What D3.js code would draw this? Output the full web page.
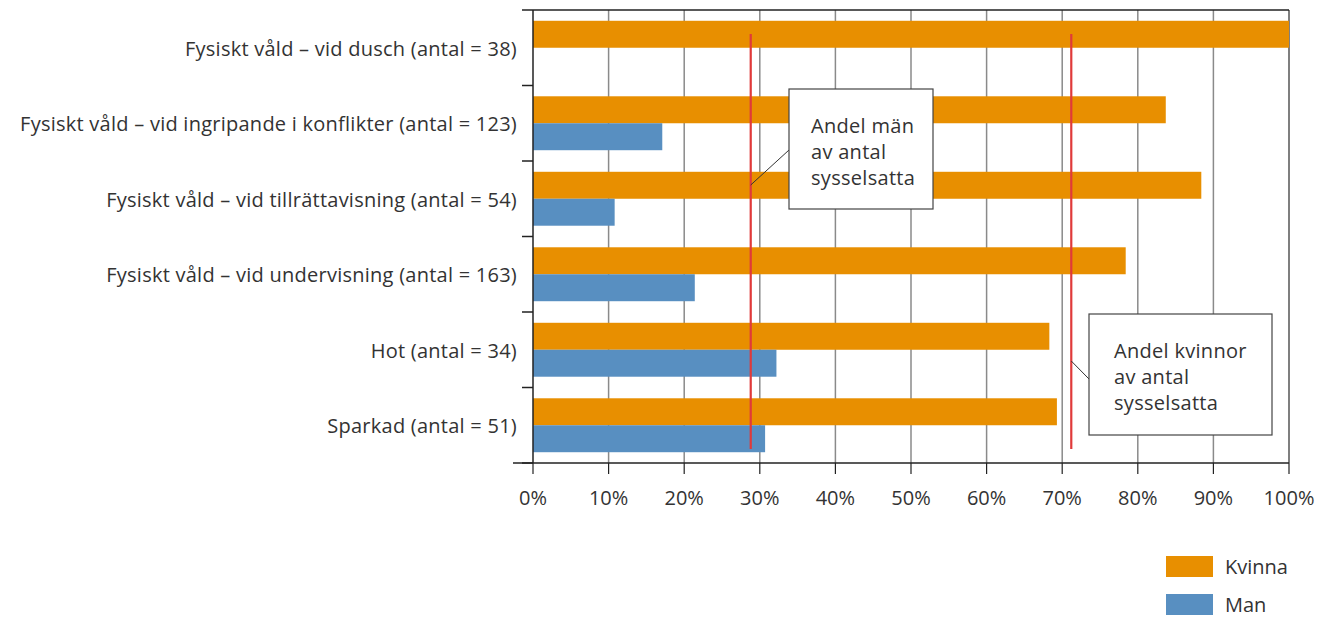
<!DOCTYPE html>
<html>
<head>
<meta charset="utf-8">
<script src="https://cdn.jsdelivr.net/npm/d3@7"></script>
<style>
  body { margin: 0; background: #fff; }
  svg text { font-family: "Open Sans", "Noto Sans", sans-serif; fill: #333; }
</style>
</head>
<body>
<svg id="chart"></svg>
<script>
const categories = [
    'Fysiskt våld – vid dusch (antal = 38)',
    'Fysiskt våld – vid ingripande i konflikter (antal = 123)',
    'Fysiskt våld – vid tillrättavisning (antal = 54)',
    'Fysiskt våld – vid undervisning (antal = 163)',
    'Hot (antal = 34)',
    'Sparkad (antal = 51)'
]
const series = ['Kvinna', 'Man']
const kvinna = [100, 83.7, 88.4, 78.4, 68.3, 69.3]
const man = [0, 17.1, 10.8, 21.4, 32.2, 30.7]
const ticks = [0, 10, 20, 30, 40, 50, 60, 70, 80, 90, 100]
// andel av antal sysselsatta
const refLines = [
    {label: ['Andel män', 'av antal', 'sysselsatta'], value: 28.8},
    {label: ['Andel kvinnor', 'av antal', 'sysselsatta'], value: 71.2}
]

const colors = {Kvinna: '#e88f00', Man: '#588fc1'}

let chart = {}
chart.width_ = 1319
chart.height_ = 621
chart.margin = {top: 10, right: 30, bottom: 158, left: 533}

chart.svg = d3.select('#chart')
    .attr('width', chart.width_)
    .attr('height', chart.height_)

chart.x = d3.scaleLinear()
    .domain([0, 100])
    .range([chart.margin.left, 1289])
chart.y = d3.scaleBand()
    .domain(categories)
    .range([chart.margin.top, chart.height_ - chart.margin.bottom])
chart.sub = d3.scaleBand()
    .domain(series)
    .range([0, chart.y.bandwidth()])
    .paddingOuter(0.4)

const x = chart.x, y = chart.y
const bottom = y.range()[1]

// gridlines
chart.svg.append('g')
    .selectAll('line')
    .data(ticks.slice(1))
    .join('line')
    .attr('x1', d => x(d)).attr('x2', d => x(d))
    .attr('y1', y.range()[0]).attr('y2', bottom)
    .attr('stroke', d => d === 100 ? '#555' : '#8a8a8a')
    .attr('stroke-width', 1.5)

// top frame line
chart.svg.append('line')
    .attr('x1', x(0) - 11).attr('x2', x(100))
    .attr('y1', y.range()[0]).attr('y2', y.range()[0])
    .attr('stroke', '#222').attr('stroke-width', 1.5)

// bars
const rows = categories.map((c, i) => ({cat: c, values: [
    {key: 'Kvinna', value: kvinna[i]},
    {key: 'Man', value: man[i]}
]}))

const group = chart.svg.append('g')
    .selectAll('g')
    .data(rows)
    .join('g')
    .attr('transform', d => `translate(0, ${y(d.cat)})`)
group.selectAll('rect')
    .data(d => d.values.filter(v => v.value > 0))
    .join('rect')
    .attr('x', x(0))
    .attr('y', (d, i) => chart.sub(series[i]))
    .attr('width', d => x(d.value) - x(0))
    .attr('height', chart.sub.bandwidth())
    .attr('fill', d => colors[d.key])

// left axis
const yAxis = chart.svg.append('g')
    .attr('transform', `translate(${x(0)}, 0)`)
yAxis.append('line')
    .attr('y1', y.range()[0]).attr('y2', bottom)
    .attr('stroke', '#222').attr('stroke-width', 1.5)
yAxis.selectAll('line.tick')
    .data(categories.map(c => y(c) + y.bandwidth()))
    .join('line')
    .classed('tick', true)
    .attr('x1', -11).attr('x2', 0)
    .attr('y1', d => d).attr('y2', d => d)
    .attr('stroke', '#222').attr('stroke-width', 1.5)
yAxis.selectAll('text')
    .data(categories)
    .join('text')
    .attr('x', -16)
    .attr('y', d => y(d) + y.bandwidth() / 2 + 1)
    .attr('dy', '0.35em')
    .attr('text-anchor', 'end')
    .attr('font-size', 20)
    .attr('letter-spacing', 0.25)
    .text(d => d)

// bottom axis
const xAxis = chart.svg.append('g')
    .attr('transform', `translate(0, ${bottom})`)
xAxis.append('line')
    .attr('x1', x(0) - 20).attr('x2', x(100))
    .attr('stroke', '#222').attr('stroke-width', 1.5)
xAxis.selectAll('line.tick')
    .data(ticks)
    .join('line')
    .classed('tick', true)
    .attr('x1', d => x(d)).attr('x2', d => x(d))
    .attr('y1', 0).attr('y2', 11)
    .attr('stroke', '#222').attr('stroke-width', 1.2)
xAxis.selectAll('text')
    .data(ticks)
    .join('text')
    .attr('x', d => x(d))
    .attr('y', 42)
    .attr('text-anchor', 'middle')
    .attr('font-size', 20)
    .text(d => d + '%')

// reference lines + callouts
const boxes = [
    {x: 789, y: 89, w: 144, h: 120, from: 185, to: 150, pad: 22},
    {x: 1089, y: 314, w: 183, h: 121, from: 361, to: 379, pad: 25}
]
refLines.forEach((r, i) => {
    const b = boxes[i]
    const g = chart.svg.append('g')
    g.append('line')
        .attr('x1', x(r.value)).attr('x2', x(r.value))
        .attr('y1', 34).attr('y2', 449)
        .attr('stroke', '#e03a3a').attr('stroke-width', 2.2)
    g.append('line')
        .attr('x1', x(r.value)).attr('y1', b.from)
        .attr('x2', b.x).attr('y2', b.to)
        .attr('stroke', '#333').attr('stroke-width', 1)
    g.append('rect')
        .attr('x', b.x).attr('y', b.y)
        .attr('width', b.w).attr('height', b.h)
        .attr('fill', '#fff')
        .attr('stroke', '#444').attr('stroke-width', 1.2)
    g.selectAll('text')
        .data(r.label)
        .join('text')
        .attr('x', b.x + b.pad)
        .attr('y', (d, j) => b.y + 44 + j * 26)
        .attr('font-size', 20)
        .attr('letter-spacing', 0.3)
        .text(d => d)
})

// legend
const legend = chart.svg.append('g')
    .attr('transform', 'translate(1166, 556)')
const item = legend.selectAll('g')
    .data(series)
    .join('g')
    .attr('transform', (d, i) => `translate(0, ${i * 38})`)
item.append('rect')
    .attr('width', 47).attr('height', 21)
    .attr('fill', d => colors[d])
item.append('text')
    .attr('x', 59).attr('y', 11)
    .attr('dy', '0.35em')
    .attr('font-size', 20)
    .text(d => d)
</script>
</body>
</html>
